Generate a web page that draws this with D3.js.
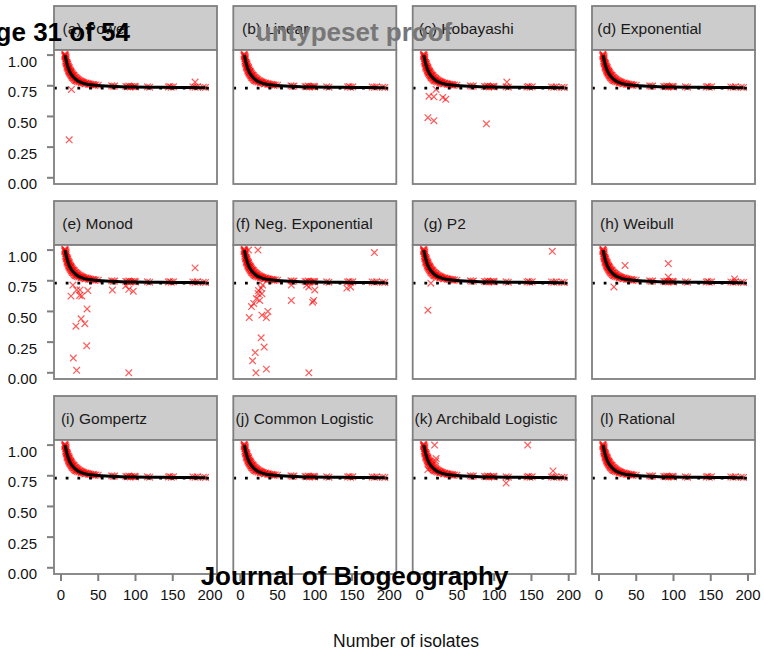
<!DOCTYPE html>
<html><head><meta charset="utf-8">
<script src="https://cdn.jsdelivr.net/npm/d3@7"></script>
<style>body{margin:0;background:#fff}svg{display:block}text{font-family:"Liberation Sans",Arial,sans-serif}</style>
</head><body>
<script>
const panelTitles = ["(a) Power","(b) Linear","(c) Kobayashi","(d) Exponential",
  "(e) Monod","(f) Neg. Exponential","(g) P2","(h) Weibull",
  "(i) Gompertz","(j) Common Logistic","(k) Archibald Logistic","(l) Rational"];
const xTicks = [0,50,100,150,200];
const yTicks = [0,0.25,0.5,0.75,1.0];
const yTickLabels = ["0.00","0.25","0.50","0.75","1.00"];
const refLine = 0.73;
const curveX = [5.5,7,8,10,12,14,16,18,20,23,26,30,35,40,50,60,75,100,125,150,175,194];
const curveY = [1.0,0.955,0.93,0.89,0.862,0.841,0.825,0.812,0.801,0.788,0.779,0.770,0.763,0.758,0.752,0.748,0.744,0.740,0.738,0.736,0.735,0.734];
const bandPoints = [[5,1.01],[5,0.99],[5,1.0],[6,1.0],[6,0.97],[6,0.95],[6,0.985],[7,0.97],[7,0.94],[7,0.955],[7,0.93],
  [8,0.94],[8,0.91],[8,0.925],[8,0.90],[9,0.92],[9,0.89],[9,0.905],[10,0.91],[10,0.88],[10,0.895],[10,0.87],
  [11,0.89],[11,0.86],[11,0.875],[12,0.88],[12,0.85],[12,0.865],[13,0.865],[13,0.84],[13,0.855],[14,0.86],[14,0.83],[14,0.845],
  [15,0.85],[15,0.82],[15,0.835],[16,0.84],[16,0.815],[17,0.835],[17,0.81],[18,0.83],[18,0.80],[19,0.82],[19,0.795],
  [20,0.815],[20,0.79],[21,0.81],[22,0.805],[22,0.785],[23,0.80],[24,0.795],[25,0.79],[26,0.79],[27,0.785],[28,0.78],
  [29,0.78],[30,0.775],[31,0.775],[33,0.77],[34,0.772],[36,0.768],[38,0.765],[40,0.762],[42,0.76],[44,0.76],[47,0.757],[50,0.755],
  [7,0.985],[9,0.93],[11,0.90],[13,0.87],[16,0.83],[18,0.815],[21,0.795],[24,0.78],[27,0.775],[32,0.765],[37,0.762],[45,0.753],
  [68,0.75],[70,0.745],[72,0.748],[87,0.745],[89,0.742],[91,0.748],[93,0.74],[95,0.745],[97,0.742],[99,0.746],[100,0.74],
  [116,0.742],[119,0.738],[144,0.74],[146,0.745],[148,0.738],[151,0.742],[177,0.74],[180,0.738],[183,0.742],[191,0.738],[194,0.736]];
const outliersA = [[11,0.31],[14,0.72],[180,0.78]];
const outliersB = [];
const outliersC = [[12.5,0.665],[19,0.66],[31,0.655],[35,0.64],[11,0.49],[19,0.465],[89.5,0.44],[117,0.78],[22,0.72]];
const outliersD = [];
const outliersE = [[13.4,0.625],[20,0.38],[27,0.44],[32,0.40],[35,0.52],[34.5,0.22],[16.5,0.12],[21,0.02],[91,0.0],
  [25.5,0.675],[25,0.63],[28,0.625],[36,0.67],[21,0.675],[180,0.855],[69,0.674],[91,0.68],[97,0.665],[87,0.71],[16,0.715]];
const outliersF = [[23.7,1.0],[11,1.0],[180,0.98],[68.5,0.59],[97,0.575],[98.5,0.59],[100,0.675],[92,0.0],[21,0.0],[35,0.03],
  [16.5,0.098],[20,0.165],[32,0.21],[28,0.285],[12,0.45],[29,0.47],[35,0.45],[37,0.50],[15,0.54],[18,0.565],[21.5,0.605],
  [26,0.59],[24,0.645],[29,0.645],[28,0.69],[30,0.715],[24.5,0.67],[92,0.70],[89,0.715],[143,0.69],[148,0.70],[68.5,0.715]];
const outliersG = [[11,0.51],[15,0.73],[178,0.99]];
const outliersH = [[93,0.89],[35,0.875],[20,0.70],[93,0.78],[182,0.765]];
const outliersI = [];
const outliersJ = [];
const outliersK = [[20,1.0],[22,0.89],[145,1.0],[179,0.79],[116,0.69],[11,0.80],[21.5,0.87]];
const outliersL = [];
const outliers = [outliersA,outliersB,outliersC,outliersD,outliersE,outliersF,outliersG,outliersH,outliersI,outliersJ,outliersK,outliersL];

const W = 764, H = 650;
const svg = d3.select("body").append("svg").attr("width",W).attr("height",H);
const pw = 163, ph = 134, sh = 44;
const colX = [54, 233.3, 412.7, 592];
const rowY = [6, 201, 396];
const x = d3.scaleLinear().domain([-9.4,209.4]).range([0,pw]);
const y = d3.scaleLinear().domain([-0.0505,1.0415]).range([ph,0]);
const grey = "#7f7f7f";

panelTitles.forEach((title,i) => {
  const r = Math.floor(i/4), c = i%4;
  const g = svg.append("g").attr("transform",`translate(${colX[c]},${rowY[r]})`);
  g.append("rect").attr("x",0).attr("y",0).attr("width",pw).attr("height",sh)
    .attr("fill","#cccccc").attr("stroke",grey).attr("stroke-width",1.8);
  const t = g.append("text").attr("y",sh/2).attr("dy","0.36em").attr("font-size",15.5)
    .attr("fill","#1a1a1a").text(title);
  const tw = t.node().getComputedTextLength();
  t.attr("x", 0.09*(pw - tw));
  const p = g.append("g").attr("transform",`translate(0,${sh})`);
  p.append("rect").attr("width",pw).attr("height",ph).attr("fill","#fff");
  const pts = bandPoints.concat(outliers[i]);
  p.selectAll("path.pt").data(pts).enter().append("path").attr("class","pt")
    .attr("d", d => { const px=x(d[0]), py=y(d[1]), s=3.3;
      return `M${px-s},${py-s}L${px+s},${py+s}M${px-s},${py+s}L${px+s},${py-s}`; })
    .attr("stroke","#ff0000").attr("stroke-opacity",0.65).attr("stroke-width",1.2).attr("fill","none");
  p.append("line").attr("x1",0).attr("x2",pw).attr("y1",y(refLine)).attr("y2",y(refLine))
    .attr("stroke","#000").attr("stroke-width",2.8).attr("stroke-dasharray","2.8 8.9");
  const line = d3.line().x((d,k)=>x(curveX[k])).y((d,k)=>y(curveY[k])).curve(d3.curveMonotoneX);
  p.append("path").attr("d", line(curveX)).attr("fill","none").attr("stroke","#000").attr("stroke-width",3);
  p.append("rect").attr("width",pw).attr("height",ph).attr("fill","none").attr("stroke",grey).attr("stroke-width",1.8);
  if (c === 0) {
    yTicks.forEach((v,k) => {
      p.append("line").attr("x1",-7).attr("x2",0).attr("y1",y(v)).attr("y2",y(v)).attr("stroke",grey).attr("stroke-width",2);
      p.append("text").attr("x",-17).attr("y",y(v)+11.5).attr("text-anchor","end").attr("font-size",15)
        .attr("fill","#111").text(yTickLabels[k]);
    });
  }
  if (r === 2) {
    xTicks.forEach(v => {
      p.append("line").attr("x1",x(v)).attr("x2",x(v)).attr("y1",ph).attr("y2",ph+7).attr("stroke",grey).attr("stroke-width",2);
      p.append("text").attr("x",x(v)).attr("y",ph+26).attr("text-anchor","middle").attr("font-size",15)
        .attr("fill","#111").text(v);
    });
  }
});

svg.append("text").attr("x",406).attr("y",647).attr("text-anchor","middle").attr("font-size",17.5)
  .attr("fill","#111").text("Number of isolates");
svg.append("text").attr("x",130).attr("y",41).attr("text-anchor","end").attr("font-size",26)
  .attr("font-weight","bold").attr("fill","#000").text("Page 31 of 54");
svg.append("text").attr("x",354).attr("y",41).attr("text-anchor","middle").attr("font-size",26)
  .attr("font-weight","bold").attr("fill","#777").text("untypeset proof");
svg.append("text").attr("x",354.5).attr("y",585).attr("text-anchor","middle").attr("font-size",26)
  .attr("font-weight","bold").attr("fill","#000").text("Journal of Biogeography");
</script>
</body></html>
